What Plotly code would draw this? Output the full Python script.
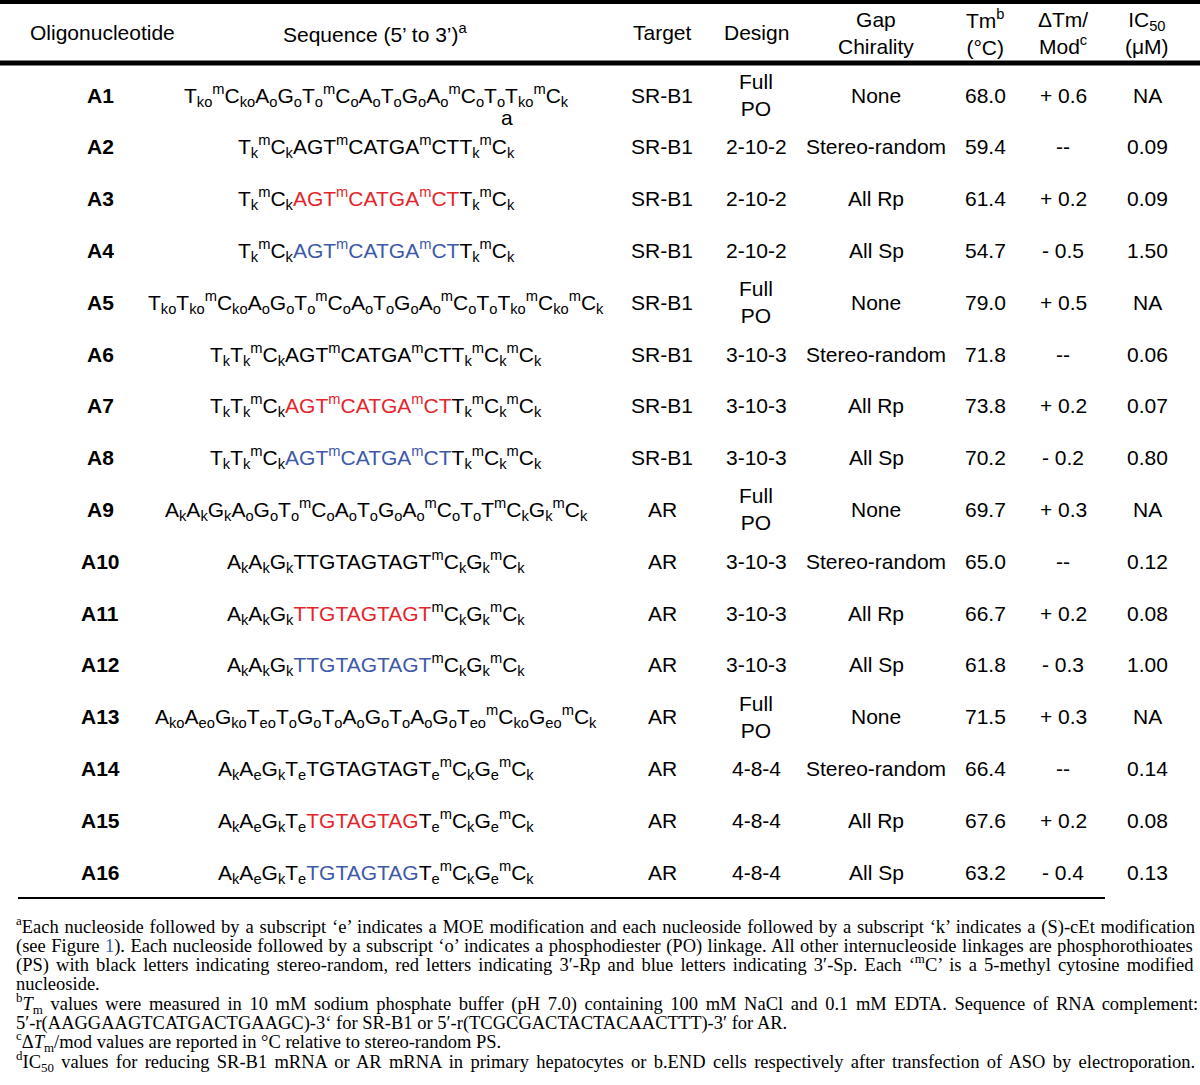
import plotly.graph_objects as go

RED = "#e3262b"
BLUE = "#3d59a8"

def red(s):
    return f"<span style='color:{RED}'>{s}</span>"

def blue(s):
    return f"<span style='color:{BLUE}'>{s}</span>"

# ---------------- data ----------------
oligo_ids = ["A1", "A2", "A3", "A4", "A5", "A6", "A7", "A8",
             "A9", "A10", "A11", "A12", "A13", "A14", "A15", "A16"]

gap_sr = "AGT<sup>m</sup>CATGA<sup>m</sup>CT"
gap_ar1 = "TTGTAGTAGT"
gap_ar2 = "TGTAGTAG"

sequences = [
    "T<sub>ko</sub><sup>m</sup>C<sub>ko</sub>A<sub>o</sub>G<sub>o</sub>T<sub>o</sub><sup>m</sup>C<sub>o</sub>A<sub>o</sub>T<sub>o</sub>G<sub>o</sub>A<sub>o</sub><sup>m</sup>C<sub>o</sub>T<sub>o</sub>T<sub>ko</sub><sup>m</sup>C<sub>k</sub>",
    "T<sub>k</sub><sup>m</sup>C<sub>k</sub>" + gap_sr + "T<sub>k</sub><sup>m</sup>C<sub>k</sub>",
    "T<sub>k</sub><sup>m</sup>C<sub>k</sub>" + red(gap_sr) + "T<sub>k</sub><sup>m</sup>C<sub>k</sub>",
    "T<sub>k</sub><sup>m</sup>C<sub>k</sub>" + blue(gap_sr) + "T<sub>k</sub><sup>m</sup>C<sub>k</sub>",
    "T<sub>ko</sub>T<sub>ko</sub><sup>m</sup>C<sub>ko</sub>A<sub>o</sub>G<sub>o</sub>T<sub>o</sub><sup>m</sup>C<sub>o</sub>A<sub>o</sub>T<sub>o</sub>G<sub>o</sub>A<sub>o</sub><sup>m</sup>C<sub>o</sub>T<sub>o</sub>T<sub>ko</sub><sup>m</sup>C<sub>ko</sub><sup>m</sup>C<sub>k</sub>",
    "T<sub>k</sub>T<sub>k</sub><sup>m</sup>C<sub>k</sub>" + gap_sr + "T<sub>k</sub><sup>m</sup>C<sub>k</sub><sup>m</sup>C<sub>k</sub>",
    "T<sub>k</sub>T<sub>k</sub><sup>m</sup>C<sub>k</sub>" + red(gap_sr) + "T<sub>k</sub><sup>m</sup>C<sub>k</sub><sup>m</sup>C<sub>k</sub>",
    "T<sub>k</sub>T<sub>k</sub><sup>m</sup>C<sub>k</sub>" + blue(gap_sr) + "T<sub>k</sub><sup>m</sup>C<sub>k</sub><sup>m</sup>C<sub>k</sub>",
    "A<sub>k</sub>A<sub>k</sub>G<sub>k</sub>A<sub>o</sub>G<sub>o</sub>T<sub>o</sub><sup>m</sup>C<sub>o</sub>A<sub>o</sub>T<sub>o</sub>G<sub>o</sub>A<sub>o</sub><sup>m</sup>C<sub>o</sub>T<sub>o</sub>T<sup>m</sup>C<sub>k</sub>G<sub>k</sub><sup>m</sup>C<sub>k</sub>",
    "A<sub>k</sub>A<sub>k</sub>G<sub>k</sub>" + gap_ar1 + "<sup>m</sup>C<sub>k</sub>G<sub>k</sub><sup>m</sup>C<sub>k</sub>",
    "A<sub>k</sub>A<sub>k</sub>G<sub>k</sub>" + red(gap_ar1) + "<sup>m</sup>C<sub>k</sub>G<sub>k</sub><sup>m</sup>C<sub>k</sub>",
    "A<sub>k</sub>A<sub>k</sub>G<sub>k</sub>" + blue(gap_ar1) + "<sup>m</sup>C<sub>k</sub>G<sub>k</sub><sup>m</sup>C<sub>k</sub>",
    "A<sub>ko</sub>A<sub>eo</sub>G<sub>ko</sub>T<sub>eo</sub>T<sub>o</sub>G<sub>o</sub>T<sub>o</sub>A<sub>o</sub>G<sub>o</sub>T<sub>o</sub>A<sub>o</sub>G<sub>o</sub>T<sub>eo</sub><sup>m</sup>C<sub>ko</sub>G<sub>eo</sub><sup>m</sup>C<sub>k</sub>",
    "A<sub>k</sub>A<sub>e</sub>G<sub>k</sub>T<sub>e</sub>" + gap_ar2 + "T<sub>e</sub><sup>m</sup>C<sub>k</sub>G<sub>e</sub><sup>m</sup>C<sub>k</sub>",
    "A<sub>k</sub>A<sub>e</sub>G<sub>k</sub>T<sub>e</sub>" + red(gap_ar2) + "T<sub>e</sub><sup>m</sup>C<sub>k</sub>G<sub>e</sub><sup>m</sup>C<sub>k</sub>",
    "A<sub>k</sub>A<sub>e</sub>G<sub>k</sub>T<sub>e</sub>" + blue(gap_ar2) + "T<sub>e</sub><sup>m</sup>C<sub>k</sub>G<sub>e</sub><sup>m</sup>C<sub>k</sub>",
]

targets = ["SR-B1"] * 8 + ["AR"] * 8
designs = ["Full<br>PO", "2-10-2", "2-10-2", "2-10-2",
           "Full<br>PO", "3-10-3", "3-10-3", "3-10-3",
           "Full<br>PO", "3-10-3", "3-10-3", "3-10-3",
           "Full<br>PO", "4-8-4", "4-8-4", "4-8-4"]
chirality = ["None", "Stereo-random", "All Rp", "All Sp"] * 4
tm_values = ["68.0", "59.4", "61.4", "54.7", "79.0", "71.8", "73.8", "70.2",
             "69.7", "65.0", "66.7", "61.8", "71.5", "66.4", "67.6", "63.2"]
dtm_values = ["+ 0.6", "--", "+ 0.2", "- 0.5", "+ 0.5", "--", "+ 0.2", "- 0.2",
              "+ 0.3", "--", "+ 0.2", "- 0.3", "+ 0.3", "--", "+ 0.2", "- 0.4"]
ic50_values = ["NA", "0.09", "0.09", "1.50", "NA", "0.06", "0.07", "0.80",
               "NA", "0.12", "0.08", "1.00", "NA", "0.14", "0.08", "0.13"]

headers = ["Oligonucleotide", "Sequence (5’ to 3’)<sup>a</sup>", "Target", "Design",
           "Gap<br>Chirality", "Tm<sup>b</sup><br>(°C)", "ΔTm/<br>Mod<sup>c</sup>",
           "IC<sub>50</sub><br>(μM)"]

footnotes = [
    "<sup>a</sup>Each nucleoside followed by a subscript ‘e’ indicates a MOE modification and each nucleoside followed by a subscript ‘k’ indicates a (S)-cEt modification",
    f"(see Figure <span style='color:{BLUE}'>1</span>). Each nucleoside followed by a subscript ‘o’ indicates a phosphodiester (PO) linkage. All other internucleoside linkages are phosphorothioates",
    "(PS) with black letters indicating stereo-random, red letters indicating 3′-Rp and blue letters indicating 3′-Sp. Each ‘<sup>m</sup>C’ is a 5-methyl cytosine modified",
    "nucleoside.",
    "<sup>b</sup><i>T</i><sub>m</sub> values were measured in 10 mM sodium phosphate buffer (pH 7.0) containing 100 mM NaCl and 0.1 mM EDTA. Sequence of RNA complement:",
    "5′-r(AAGGAAGTCATGACTGAAGC)-3‘ for SR-B1 or 5′-r(TCGCGACTACTACAACTTT)-3′ for AR.",
    "<sup>c</sup>Δ<i>T</i><sub>m</sub>/mod values are reported in °C relative to stereo-random PS.",
    "<sup>d</sup>IC<sub>50</sub> values for reducing SR-B1 mRNA or AR mRNA in primary hepatocytes or b.END cells respectively after transfection of ASO by electroporation.",
]

# ---------------- layout constants ----------------
W, H = 1200, 1085
SANS = "Liberation Sans, Arial, sans-serif"
SERIF = "Liberation Serif, Times New Roman, serif"
FS = 21
col_x = [100, 376, 662, 756, 876, 985, 1063, 1147]
header_x = [102, 375, 662, 756, 876, 985, 1063, 1147]
header_y = 32.5
row_y0, row_dy = 95, 51.8
foot_y0, foot_dy, foot_x = 926, 19.3, 14
foot_wordspacing = [1.2, 0.8, 2.5, 0, 3.0, 0, 0, 2.7]   # emulate justified lines
balance = "<span style='color:rgba(0,0,0,0)'><sup>x</sup><sub>x</sub></span>"

fig = go.Figure()
fig.add_trace(go.Scatter(x=[0, W], y=[0, H], mode="markers",
                         marker=dict(opacity=0), hoverinfo="skip", showlegend=False))

def ann(x, y, text, size=FS, family=SANS, xanchor="center", color="#000"):
    fig.add_annotation(x=x, y=y, xref="x", yref="y", text=text, showarrow=False,
                       xanchor=xanchor, yanchor="middle",
                       align="center" if xanchor == "center" else "left",
                       font=dict(family=family, size=size, color=color))

for hx, h in zip(header_x, headers):
    ann(hx, header_y, h)

columns = [[f"<b>{i}</b>" for i in oligo_ids], sequences, targets, designs,
           chirality, tm_values, dtm_values, ic50_values]
for ci, col in enumerate(columns):
    for ri, txt in enumerate(col):
        ann(col_x[ci], row_y0 + ri * row_dy, txt)

# stray footnote marker under A1 sequence (as in the source)
ann(507, row_y0 + 22, "a")

for fi, ft in enumerate(footnotes):
    ws = foot_wordspacing[fi]
    txt = f"<span style='word-spacing:{ws}px'>{ft}</span>" if ws else ft
    ann(foot_x, foot_y0 + fi * foot_dy, txt + balance, size=18.5, family=SERIF, xanchor="left")

# horizontal rules
fig.add_shape(type="line", x0=0, x1=W, y0=2, y1=2, xref="x", yref="y", line=dict(color="#000", width=4))
fig.add_shape(type="line", x0=0, x1=W, y0=63, y1=63, xref="x", yref="y", line=dict(color="#000", width=5))
fig.add_shape(type="line", x0=18, x1=1105, y0=898, y1=898, xref="x", yref="y", line=dict(color="#000", width=2))

fig.update_layout(
    width=W, height=H, margin=dict(l=0, r=0, t=0, b=0),
    paper_bgcolor="white", plot_bgcolor="white",
    xaxis=dict(range=[0, W], visible=False, fixedrange=True),
    yaxis=dict(range=[H, 0], visible=False, fixedrange=True),
)

fig.write_html("out.html", config={"displayModeBar": False},
               post_script="document.body.style.margin='0';document.body.style.padding='0';")
